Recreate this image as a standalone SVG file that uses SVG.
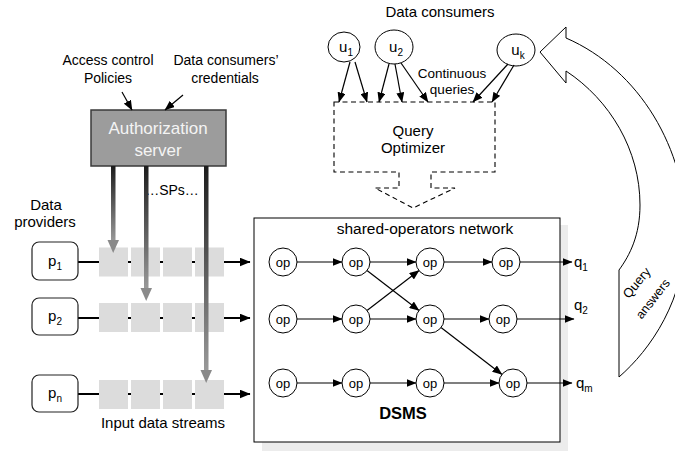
<svg xmlns="http://www.w3.org/2000/svg" width="675" height="451" viewBox="0 0 675 451">
<style>
text{font-family:"Liberation Sans",Arial,sans-serif;fill:#000}
.t15{font-size:15px}
.t14{font-size:14px}
.op{font-size:13px;text-anchor:middle}
.mid{text-anchor:middle}
.opc{fill:#fff;stroke:#000;stroke-width:1}
.e{stroke:#000;stroke-width:1.2;fill:none;marker-end:url(#ah)}
.s{stroke:#000;stroke-width:1.8;fill:none;marker-end:url(#ah2)}
.cell{fill:#dcdcdc}
.pbox{fill:#fff;stroke:#222;stroke-width:1.2}
.dash{fill:none;stroke:#000;stroke-width:1.1;stroke-dasharray:5 3.5}
.sub{font-size:10px}
</style>
<defs>
<marker id="ah" markerUnits="userSpaceOnUse" markerWidth="10" markerHeight="8" refX="9.5" refY="4" orient="auto">
<path d="M0,0 L10,4 L0,8 z" fill="#000"/>
</marker>
<marker id="ah2" markerUnits="userSpaceOnUse" markerWidth="11" markerHeight="9" refX="10.5" refY="4.5" orient="auto">
<path d="M0,0 L11,4.5 L0,9 z" fill="#000"/>
</marker>
<linearGradient id="gbar" x1="0" y1="0" x2="0" y2="1">
<stop offset="0" stop-color="#1c1c1c"/>
<stop offset="1" stop-color="#9a9a9a"/>
</linearGradient>
</defs>

<!-- Top labels -->
<g id="labels">
<text class="t14 mid" x="108" y="65">Access control</text>
<text class="t14 mid" x="108" y="83">Policies</text>
<text class="t14 mid" x="226" y="65">Data consumers’</text>
<text class="t14 mid" x="225" y="83">credentials</text>
<text class="t15 mid" x="440" y="17">Data consumers</text>
<text class="mid" x="452" y="78" style="font-size:13.5px">Continuous</text>
<text class="mid" x="452" y="94" style="font-size:13.5px">queries</text>
<text class="t15 mid" x="46" y="210">Data</text>
<text class="t15 mid" x="45" y="227">providers</text>
<text class="t14 mid" x="172" y="195">…SPs…</text>
<text class="t15 mid" x="163" y="428">Input data streams</text>
</g>

<!-- Authorization server -->
<g id="auth">
<rect x="91" y="110" width="135" height="56" fill="#9c9c9c" stroke="#3a3a3a" stroke-width="1.5"/>
<text class="mid" x="158" y="134" style="font-size:17px;fill:#f4f4f4">Authorization</text>
<text class="mid" x="158" y="156" style="font-size:17px;fill:#f4f4f4">server</text>
</g>

<!-- Data consumers -->
<g id="u1">
<ellipse cx="344" cy="47" rx="16" ry="15" class="opc"/>
<text class="t15 mid" x="346" y="52">u<tspan class="sub" dy="4">1</tspan></text>
</g>
<g id="u2">
<ellipse cx="394" cy="47" rx="19" ry="17" class="opc"/>
<text class="t15 mid" x="396" y="52">u<tspan class="sub" dy="4">2</tspan></text>
</g>
<g id="uk">
<ellipse cx="516" cy="50" rx="19" ry="16" class="opc"/>
<text class="t15 mid" x="518" y="55">u<tspan class="sub" dy="4">k</tspan></text>
</g>

<!-- Query optimizer -->
<g id="optimizer">
<path class="dash" d="M334,102 H495 V172 H431 V188 H455 L413,208 L375,188 H399 V172 H334 Z"/>
<text class="t15 mid" x="413" y="136">Query</text>
<text class="t15 mid" x="413" y="153">Optimizer</text>
</g>

<!-- DSMS -->
<g id="dsms">
<rect x="262" y="225" width="306" height="226" fill="#ececec"/>
<rect x="254" y="218" width="306" height="224" fill="#fff" stroke="#000" stroke-width="1"/>
<text class="mid" x="425" y="234" style="font-size:15.5px">shared-operators network</text>
<text class="mid" x="403" y="419" style="font-size:16.5px;font-weight:bold">DSMS</text>
</g>

<!-- Query answers curved arrow -->
<g id="answers">
<path d="M566,38 L566,27 L540,52 L566,83 L566,71 C610,100 640,150 640,205 C640,235 630,255 619,270 L619,377 C650,350 686,300 686,230 C686,150 640,70 566,38 Z" fill="#fff" stroke="#000" stroke-width="1"/>
<text class="mid" x="637" y="287" transform="rotate(-50 637 283)" style="font-size:13px">Query</text>
<text class="mid" x="653" y="303" transform="rotate(-52 653 299)" style="font-size:12.5px">answers</text>
</g>

<!-- Connectors -->
<g id="connectors">
<!-- into auth -->
<line class="e" x1="122" y1="92" x2="132" y2="110"/>
<line class="e" x1="183" y1="95" x2="165" y2="110"/>
<!-- u to optimizer -->
<line class="e" x1="350" y1="62" x2="339" y2="102"/>
<line class="e" x1="355" y1="62" x2="367" y2="102"/>
<line class="e" x1="389" y1="64" x2="379" y2="102"/>
<line class="e" x1="395" y1="64" x2="402" y2="102"/>
<line class="e" x1="401" y1="63" x2="428" y2="102"/>
<line class="e" x1="508" y1="64" x2="473" y2="102"/>
<line class="e" x1="514" y1="65" x2="492" y2="102"/>
<!-- streams -->
<line class="s" x1="78" y1="262" x2="250" y2="262"/>
<line class="s" x1="78" y1="318" x2="250" y2="318"/>
<line class="s" x1="78" y1="394" x2="250" y2="394"/>
<!-- op network row 1 -->
<line class="e" x1="297" y1="262" x2="342" y2="262"/>
<line class="e" x1="370" y1="262" x2="416" y2="262"/>
<line class="e" x1="444" y1="262" x2="492" y2="262"/>
<line class="e" x1="520" y1="262" x2="572" y2="262"/>
<!-- row 2 -->
<line class="e" x1="297" y1="319" x2="342" y2="319"/>
<line class="e" x1="370" y1="319" x2="416" y2="319"/>
<line class="e" x1="444" y1="319" x2="489" y2="319"/>
<line class="e" x1="517" y1="319" x2="574" y2="319"/>
<!-- row 3 -->
<line class="e" x1="297" y1="383" x2="342" y2="383"/>
<line class="e" x1="370" y1="383" x2="416" y2="383"/>
<line class="e" x1="444" y1="383" x2="499" y2="383"/>
<line class="e" x1="527" y1="383" x2="572" y2="383"/>
<!-- diagonals -->
<line class="e" x1="367" y1="270.5" x2="419" y2="310.5"/>
<line class="e" x1="367" y1="310.5" x2="419" y2="270.5"/>
<line class="e" x1="441" y1="327.6" x2="502" y2="374.4"/>
</g>

<!-- Stream queues -->
<g id="p1">
<rect class="pbox" x="32" y="242" width="46" height="38" rx="7"/>
<text class="t15 mid" x="55" y="266">p<tspan class="sub" dy="4">1</tspan></text>
<rect class="cell" x="99" y="247.5" width="29" height="29"/>
<rect class="cell" x="131" y="247.5" width="29" height="29"/>
<rect class="cell" x="163" y="247.5" width="29" height="29"/>
<rect class="cell" x="195" y="247.5" width="29" height="29"/>
</g>
<g id="p2">
<rect class="pbox" x="32" y="298" width="46" height="37" rx="7"/>
<text class="t15 mid" x="55" y="321">p<tspan class="sub" dy="4">2</tspan></text>
<rect class="cell" x="99" y="303" width="29" height="29"/>
<rect class="cell" x="131" y="303" width="29" height="29"/>
<rect class="cell" x="163" y="303" width="29" height="29"/>
<rect class="cell" x="195" y="303" width="29" height="29"/>
</g>
<g id="pn">
<rect class="pbox" x="32" y="375" width="46" height="37" rx="7"/>
<text class="t15 mid" x="55" y="398">p<tspan class="sub" dy="4">n</tspan></text>
<rect class="cell" x="99" y="380" width="29" height="29"/>
<rect class="cell" x="131" y="380" width="29" height="29"/>
<rect class="cell" x="163" y="380" width="29" height="29"/>
<rect class="cell" x="195" y="380" width="29" height="29"/>
</g>

<!-- SP gray arrows -->
<g id="sp-arrows">
<rect x="111" y="166" width="4.5" height="76" fill="url(#gbar)"/>
<polygon points="107.5,240 119,240 113.2,253" fill="#8a8a8a"/>
<rect x="144" y="166" width="4.5" height="124" fill="url(#gbar)"/>
<polygon points="140.5,288 152,288 146.2,301" fill="#8a8a8a"/>
<rect x="204" y="166" width="4.5" height="206" fill="url(#gbar)"/>
<polygon points="200.5,370 212,370 206.2,383" fill="#8a8a8a"/>
</g>

<!-- Operators -->
<g id="ops">
<g id="op11"><circle class="opc" cx="283" cy="262" r="14"/><text class="op" x="283" y="266.5">op</text></g>
<g id="op12"><circle class="opc" cx="356" cy="262" r="14"/><text class="op" x="356" y="266.5">op</text></g>
<g id="op13"><circle class="opc" cx="430" cy="262" r="14"/><text class="op" x="430" y="266.5">op</text></g>
<g id="op14"><circle class="opc" cx="506" cy="262" r="14"/><text class="op" x="506" y="266.5">op</text></g>
<g id="op21"><circle class="opc" cx="283" cy="319" r="14"/><text class="op" x="283" y="323.5">op</text></g>
<g id="op22"><circle class="opc" cx="356" cy="319" r="14"/><text class="op" x="356" y="323.5">op</text></g>
<g id="op23"><circle class="opc" cx="430" cy="319" r="14"/><text class="op" x="430" y="323.5">op</text></g>
<g id="op24"><circle class="opc" cx="503" cy="319" r="14"/><text class="op" x="503" y="323.5">op</text></g>
<g id="op31"><circle class="opc" cx="283" cy="383" r="14"/><text class="op" x="283" y="387.5">op</text></g>
<g id="op32"><circle class="opc" cx="356" cy="383" r="14"/><text class="op" x="356" y="387.5">op</text></g>
<g id="op33"><circle class="opc" cx="430" cy="383" r="14"/><text class="op" x="430" y="387.5">op</text></g>
<g id="op34"><circle class="opc" cx="513" cy="383" r="14"/><text class="op" x="513" y="387.5">op</text></g>
</g>

<!-- Query outputs -->
<g id="outputs">
<text class="t15" x="574" y="267">q<tspan class="sub" dy="4">1</tspan></text>
<text class="t15" x="574" y="310">q<tspan class="sub" dy="4">2</tspan></text>
<text class="t15" x="576" y="388">q<tspan class="sub" dy="4">m</tspan></text>
</g>
</svg>
